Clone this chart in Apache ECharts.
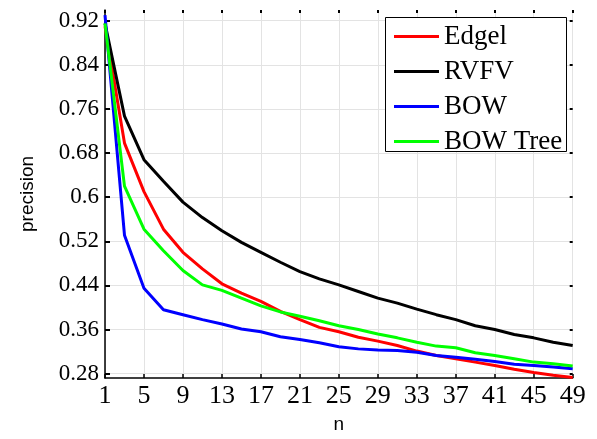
<!DOCTYPE html>
<html lang="en">

<head>
    <meta charset="UTF-8">
    <title>precision vs n</title>
    <script src="https://cdn.jsdelivr.net/npm/echarts@6/dist/echarts.min.js"></script>
    <style>
        body { margin: 0; background-color: #fff; }
        #main { width: 597px; height: 439px; }
    </style>
</head>

<body>
    <div id="main"></div>
    <script type="text/javascript">
        // n = 1, 3, 5, ... 49
        var nValues = [1, 3, 5, 7, 9, 11, 13, 15, 17, 19, 21, 23, 25, 27, 29, 31, 33, 35, 37, 39, 41, 43, 45, 47, 49];
        var edgel = [0.91, 0.698, 0.61, 0.542, 0.500, 0.470, 0.443, 0.426, 0.411, 0.393, 0.378, 0.364, 0.356, 0.346, 0.339, 0.331, 0.321, 0.313, 0.307, 0.301, 0.295, 0.288, 0.282, 0.277, 0.273];
        var rvfv = [0.915, 0.747, 0.668, 0.629, 0.591, 0.563, 0.539, 0.518, 0.500, 0.482, 0.465, 0.452, 0.441, 0.429, 0.417, 0.408, 0.397, 0.387, 0.378, 0.367, 0.360, 0.351, 0.345, 0.337, 0.331];
        var bow = [0.93, 0.531, 0.435, 0.396, 0.387, 0.378, 0.370, 0.361, 0.356, 0.347, 0.342, 0.336, 0.329, 0.325, 0.323, 0.322, 0.319, 0.313, 0.310, 0.306, 0.302, 0.297, 0.295, 0.292, 0.289];
        var bowTree = [0.915, 0.620, 0.542, 0.503, 0.467, 0.441, 0.431, 0.417, 0.403, 0.392, 0.384, 0.376, 0.367, 0.360, 0.352, 0.345, 0.337, 0.330, 0.327, 0.318, 0.313, 0.307, 0.301, 0.298, 0.294];

        var xTicks = [1, 5, 9, 13, 17, 21, 25, 29, 33, 37, 41, 45, 49];
        var yTicks = [0.28, 0.36, 0.44, 0.52, 0.6, 0.68, 0.76, 0.84, 0.92];

        function pairs(ys) {
            return nValues.map(function (n, i) { return [n, ys[i]]; });
        }

        var serifFont = '"Liberation Serif", "DejaVu Serif", serif';
        var sansFont = '"Liberation Sans", Arial, sans-serif';

        var myChart = echarts.init(document.getElementById('main'));

        var option = {
            backgroundColor: '#fff',
            animation: false,
            grid: {
                left: 105,
                right: 24.3,
                top: 10,
                bottom: 59.7
            },
            graphic: [{
                type: 'rect',
                z: 3,
                shape: { x: 385.5, y: 17.5, width: 181, height: 134 },
                style: { fill: '#fff', stroke: '#000', lineWidth: 1 }
            }],
            legend: {
                orient: 'vertical',
                left: 394,
                top: 23,
                padding: 0,
                z: 4,
                icon: 'rect',
                itemWidth: 45,
                itemHeight: 3,
                itemGap: 8,
                textStyle: {
                    fontFamily: serifFont,
                    fontSize: 27,
                    lineHeight: 24,
                    color: '#000'
                },
                data: ['Edgel', 'RVFV', 'BOW', 'BOW Tree']
            },
            xAxis: [{
                type: 'value',
                min: 1,
                max: 49,
                name: 'n',
                nameLocation: 'middle',
                nameGap: 37,
                nameTextStyle: { fontFamily: sansFont, fontSize: 19, color: '#000' },
                axisLine: { show: true, lineStyle: { color: '#000', width: 1.5 } },
                axisTick: { show: true, inside: true, length: 4, customValues: xTicks, lineStyle: { color: '#000', width: 1.5 } },
                axisLabel: {
                    customValues: xTicks,
                    margin: 5,
                    fontFamily: serifFont,
                    fontSize: 26,
                    color: '#000'
                },
                splitLine: { show: true, lineStyle: { color: '#e3e3e3', width: 1 } }
            }, {
                type: 'value',
                position: 'top',
                min: 1,
                max: 49,
                axisLine: { show: false },
                axisTick: { show: true, inside: true, length: 3, customValues: xTicks, lineStyle: { color: '#000', width: 2 } },
                axisLabel: { show: false, customValues: xTicks },
                splitLine: { show: false }
            }],
            yAxis: [{
                type: 'value',
                min: 0.2722,
                max: 0.9393,
                name: 'precision',
                nameLocation: 'middle',
                nameRotate: 90,
                nameGap: 68,
                nameTextStyle: { fontFamily: sansFont, fontSize: 19, color: '#000' },
                axisLine: { show: true, lineStyle: { color: '#000', width: 1.5 } },
                axisTick: { show: true, inside: true, length: 5, customValues: yTicks, lineStyle: { color: '#000', width: 2 } },
                axisLabel: {
                    customValues: yTicks,
                    margin: 6,
                    fontFamily: serifFont,
                    fontSize: 23,
                    color: '#000',
                    formatter: function (v) { return String(+v.toFixed(2)); }
                },
                splitLine: { show: true, lineStyle: { color: '#e3e3e3', width: 1 } }
            }, {
                type: 'value',
                position: 'right',
                min: 0.2722,
                max: 0.9393,
                axisLine: { show: false },
                axisTick: { show: true, inside: true, length: 3, customValues: yTicks, lineStyle: { color: '#000', width: 2 } },
                axisLabel: { show: false, customValues: yTicks },
                splitLine: { show: false }
            }],
            series: [{
                name: 'Edgel',
                type: 'line',
                symbol: 'none',
                color: '#ff0000',
                lineStyle: { width: 3 },
                data: pairs(edgel)
            }, {
                name: 'RVFV',
                type: 'line',
                symbol: 'none',
                color: '#000000',
                lineStyle: { width: 3 },
                data: pairs(rvfv)
            }, {
                name: 'BOW',
                type: 'line',
                symbol: 'none',
                color: '#0000ff',
                lineStyle: { width: 3 },
                data: pairs(bow)
            }, {
                name: 'BOW Tree',
                type: 'line',
                symbol: 'none',
                color: '#00ff00',
                lineStyle: { width: 3 },
                data: pairs(bowTree)
            }]
        };

        myChart.setOption(option);
    </script>
</body>

</html>
